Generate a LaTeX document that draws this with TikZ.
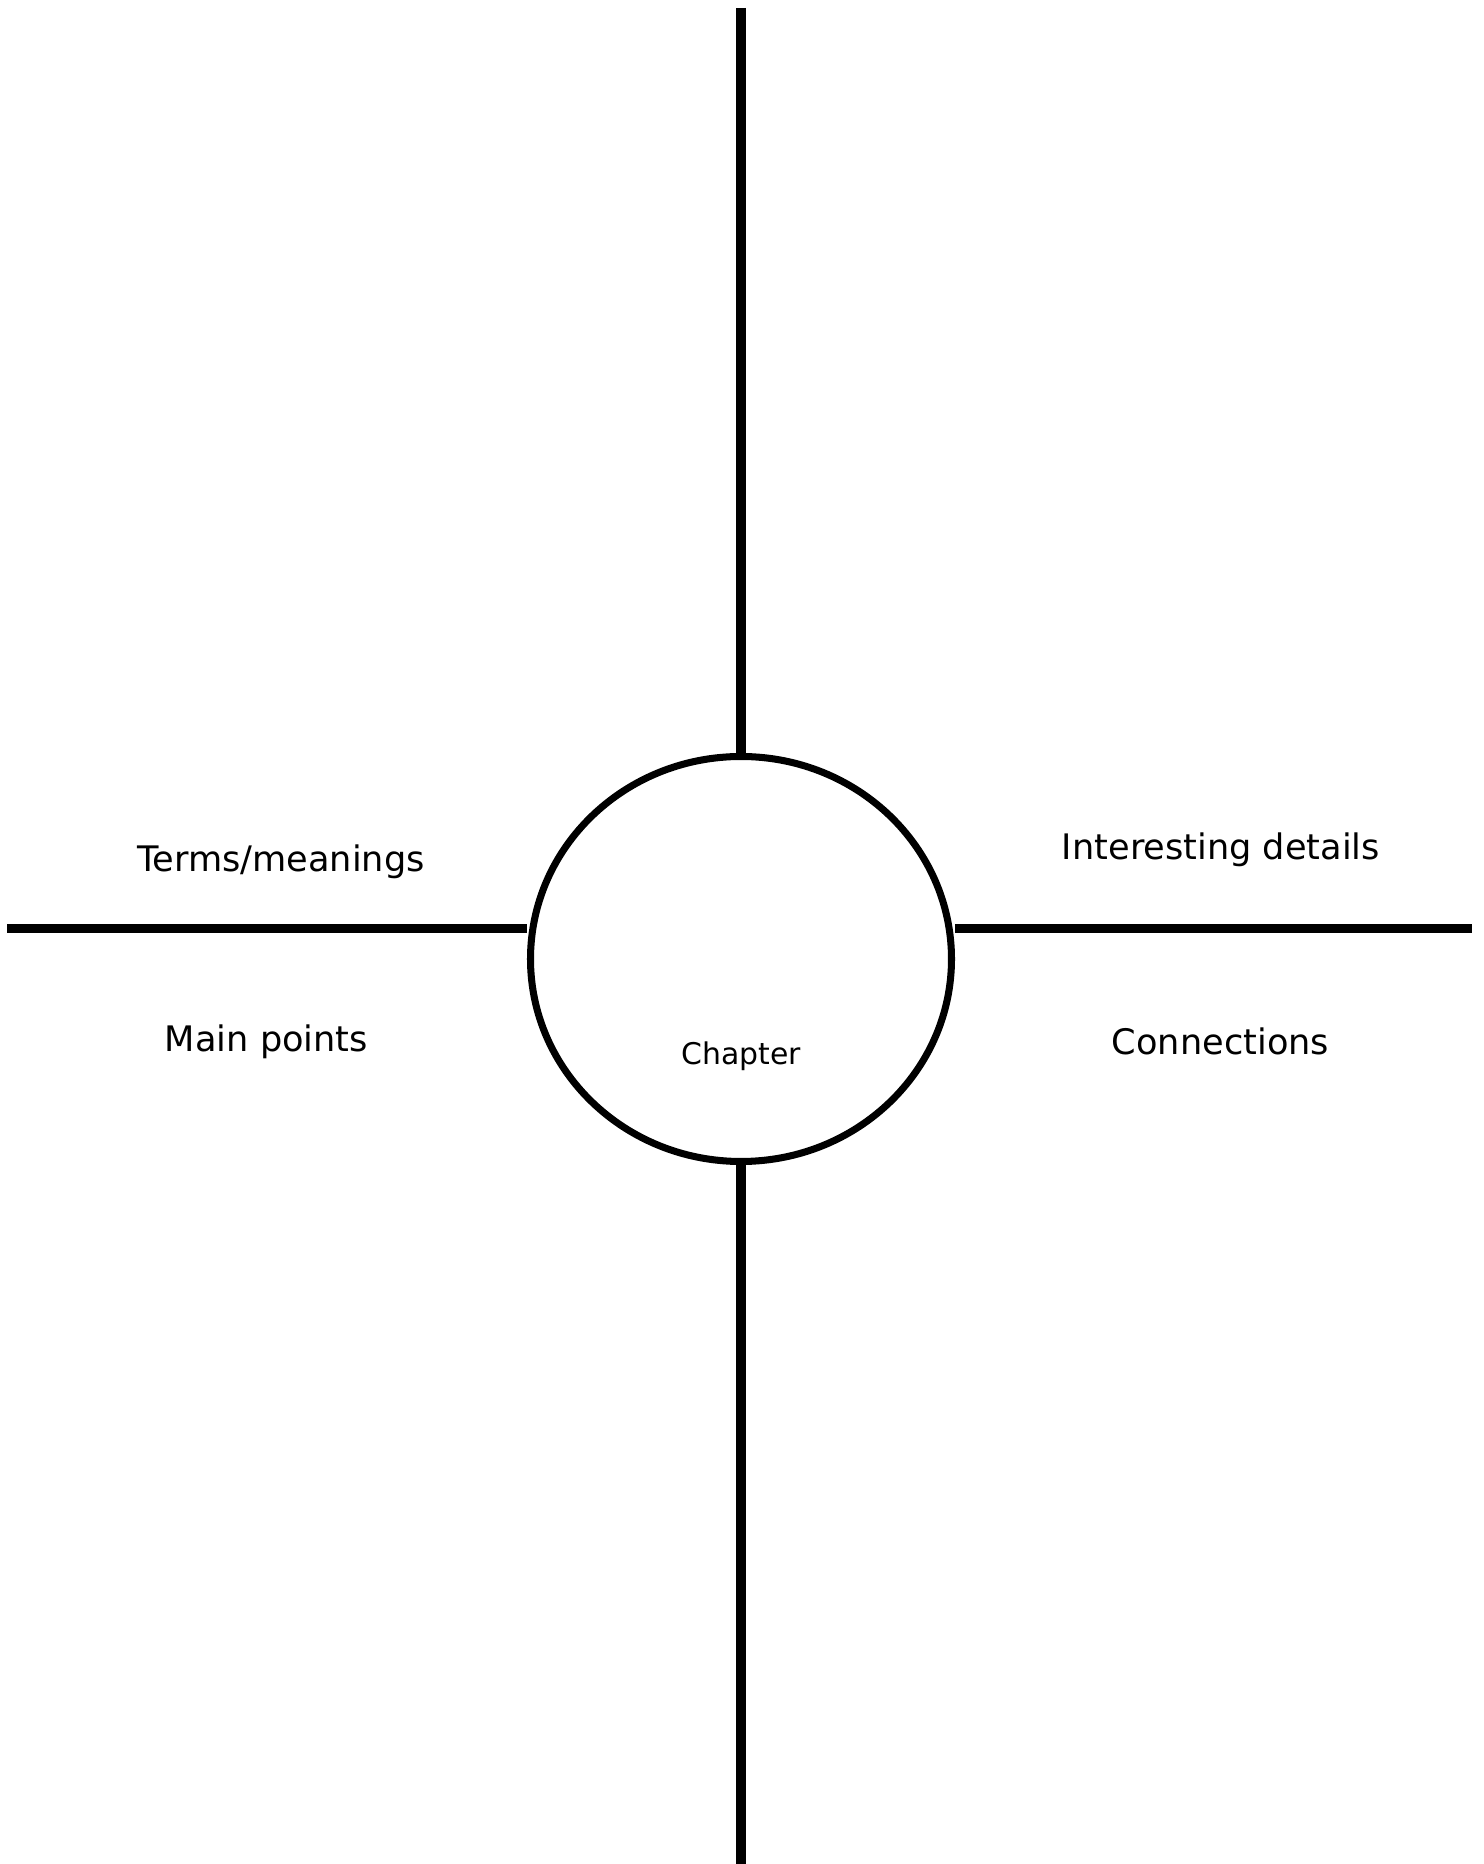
\documentclass[tikz,border=0pt]{standalone}
\usepackage{fontspec}
\setmainfont{DejaVu Sans}
\usetikzlibrary{shapes.geometric}
\begin{document}
\begin{tikzpicture}%
[quadrant/.style={font=\fontsize{10}{12}\selectfont, anchor=base, inner sep=0pt},
axis/.style={draw=black, line width=2.6pt}]
\useasboundingbox (0,0) rectangle (14.83,18.64);
\node (chapter) at (7.41,9.05) [ellipse, draw=black, line width=2pt,
minimum width=4.21cm, minimum height=4.05cm, inner sep=0pt] {};
\node (chaptertext) at (7.41,7.99) [quadrant, font=\fontsize{8.5}{10}\selectfont] {Chapter};
\node (terms) at (2.81,9.92) [quadrant] {Terms/meanings};
\node (mainpoints) at (2.665,8.12) [quadrant] {Main points};
\node (details) at (12.21,10.04) [quadrant] {Interesting details};
\node (connections) at (12.205,8.09) [quadrant] {Connections};
\coordinate (topend) at (7.41,18.56);
\coordinate (bottomend) at (7.41,0);
\coordinate (leftend) at (0.07,9.355);
\coordinate (rightend) at (14.72,9.355);
\draw [axis] (topend) -- (chapter.north);
\draw [axis] (chapter.south) -- (bottomend);
\draw [axis] (leftend) -- (leftend -| chapter.west);
\draw [axis] (rightend -| chapter.east) -- (rightend);
\end{tikzpicture}
\end{document}
